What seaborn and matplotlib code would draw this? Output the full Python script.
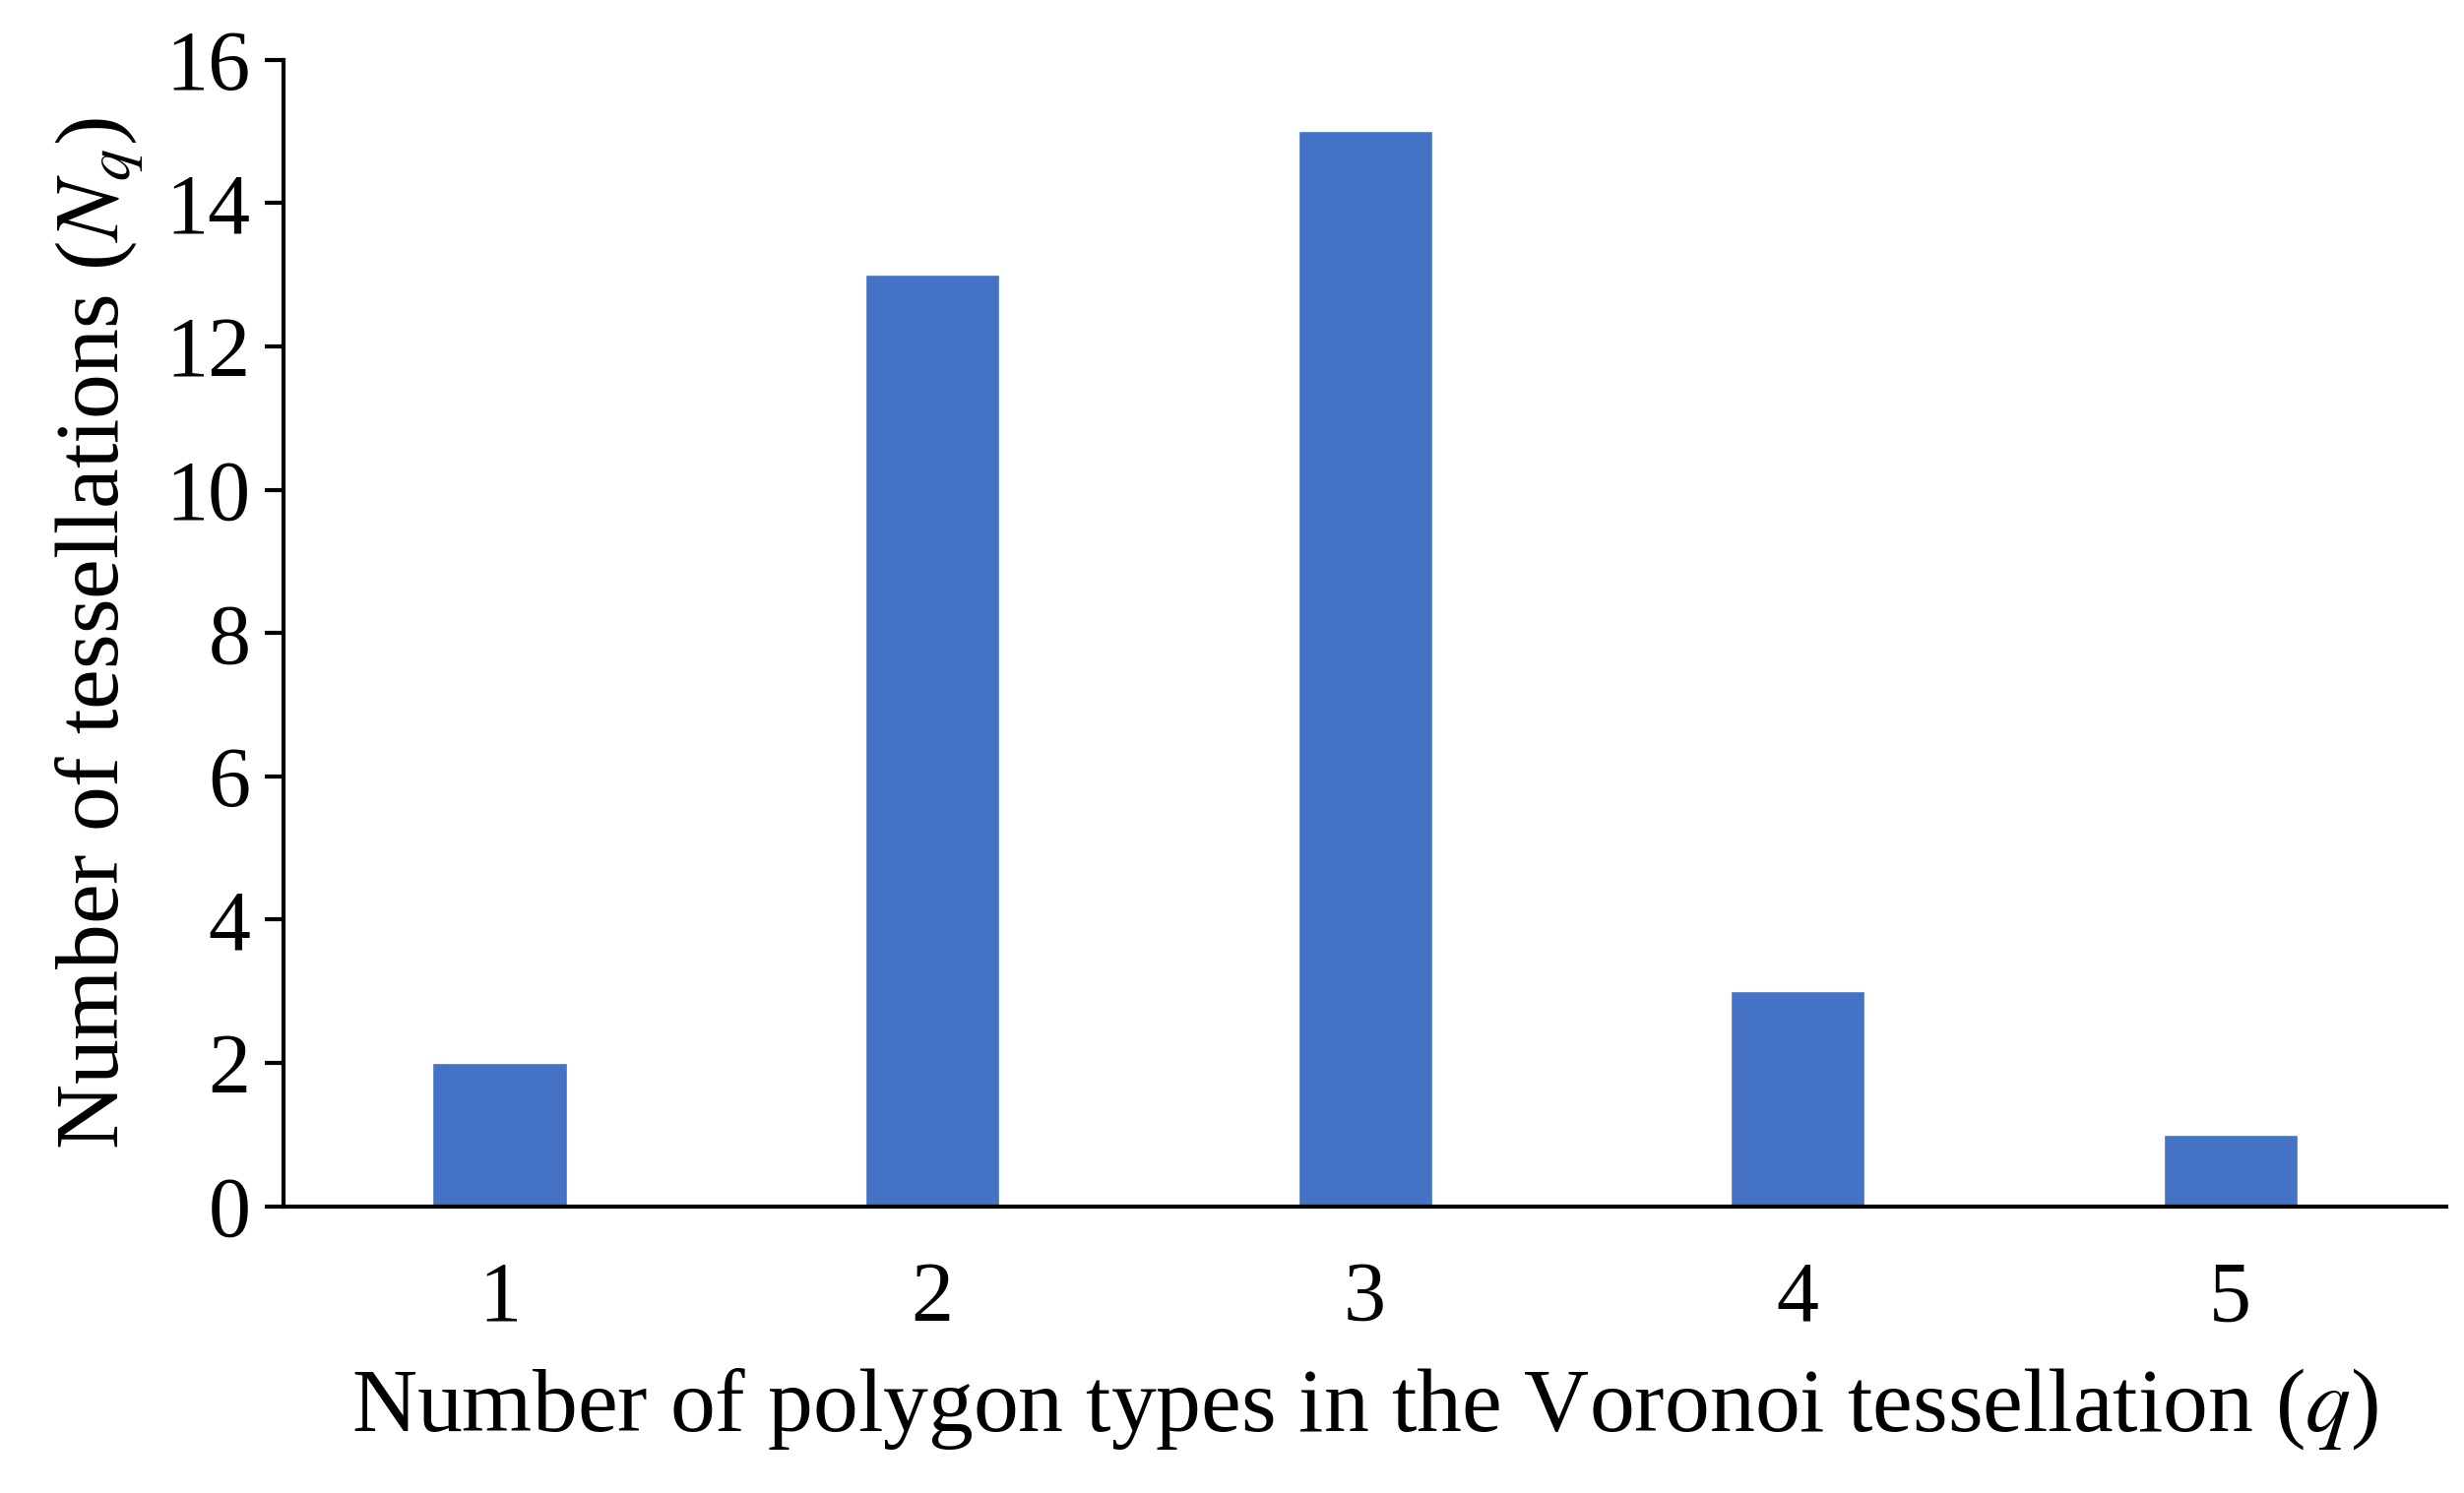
import matplotlib
matplotlib.use("Agg")
import matplotlib.pyplot as plt
import seaborn as sns
import pandas as pd

sns.set_style("ticks")
plt.rcParams['font.family'] = ['Liberation Serif', 'DejaVu Serif']
plt.rcParams['mathtext.fontset'] = 'stix'
plt.rcParams['text.color'] = 'black'
plt.rcParams['axes.labelcolor'] = 'black'
plt.rcParams['xtick.color'] = 'black'
plt.rcParams['ytick.color'] = 'black'

# data
q_types = ['1', '2', '3', '4', '5']
counts = [2, 13, 15, 3, 1]
df = pd.DataFrame({'q': q_types, 'n': counts})

fig = plt.figure(figsize=(25.03, 15.17), dpi=100)
ax = fig.add_axes([0.115, 0.192, 0.878, 0.768])
sns.barplot(data=df, x='q', y='n', color='#4472C4', saturation=1, width=0.31, ax=ax)

ax.set_ylim(0, 16)
ax.set_yticks(range(0, 17, 2))
ax.set_xlim(-0.5, 4.5)
ax.set_xlabel(r'Number of polygon types in the Voronoi tessellation ($q$)', fontsize=66, labelpad=20)
ax.set_ylabel(r'Number of tessellations ($N_q$)', fontsize=66, labelpad=15)
ax.tick_params(axis='y', labelsize=62, length=14, width=3, direction='out', pad=10)
ax.tick_params(axis='x', labelsize=62, length=0, pad=40)
for s in ['top', 'right']:
    ax.spines[s].set_visible(False)
for s in ['left', 'bottom']:
    ax.spines[s].set_linewidth(3)
    ax.spines[s].set_color('black')

fig.savefig('out.png', dpi=100)
